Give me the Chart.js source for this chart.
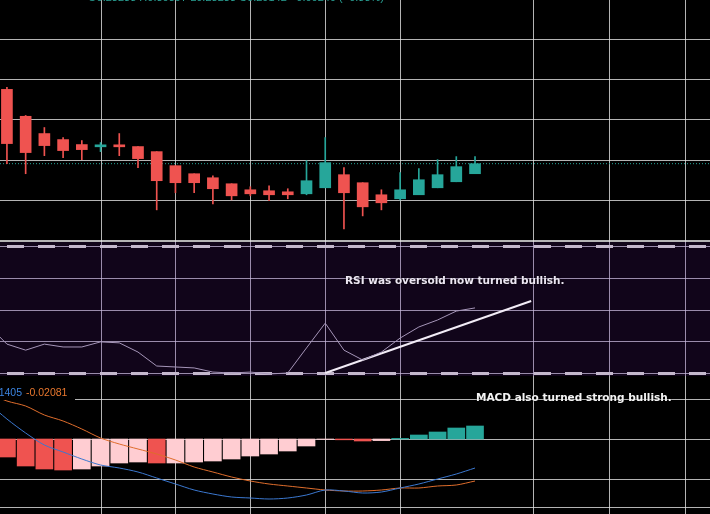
<!DOCTYPE html>
<html>
<head>
<meta charset="utf-8">
<script src="https://cdn.jsdelivr.net/npm/chart.js@4.4.1/dist/chart.umd.min.js"></script>
<style>
  html, body { margin: 0; padding: 0; background: #000; overflow: hidden; }
  #wrap { position: relative; width: 710px; height: 514px; }
  canvas { position: absolute; left: 0; display: block; }
  #priceCanvas { top: 0; }
  #rsiCanvas { top: 242px; }
  #macdCanvas { top: 376px; }
</style>
</head>
<body>
<div id="wrap">
  <canvas id="priceCanvas" width="710" height="242"></canvas>
  <canvas id="rsiCanvas" width="710" height="134"></canvas>
  <canvas id="macdCanvas" width="710" height="138"></canvas>
</div>
<script>
// candles, one per bar index 0..25
const opens  = [0.29875, 0.2954, 0.29325, 0.2925, 0.29188, 0.2916, 0.29165, 0.29163, 0.291, 0.28925, 0.28825, 0.28775, 0.287,
                0.28625, 0.28613, 0.286, 0.28575, 0.2865, 0.28813, 0.28713, 0.28563, 0.28513, 0.28563, 0.2865, 0.28725, 0.28825];
const highs  = [0.299, 0.2955, 0.294, 0.29275, 0.29238, 0.29213, 0.29325, 0.29163, 0.291, 0.28925, 0.28825, 0.288, 0.287,
                0.28663, 0.28675, 0.28638, 0.28988, 0.29275, 0.289, 0.28713, 0.28625, 0.28838, 0.28888, 0.29, 0.29038, 0.29038];
const lows   = [0.2895, 0.28825, 0.2905, 0.29025, 0.29, 0.291, 0.2905, 0.289, 0.28375, 0.28588, 0.28588, 0.2845, 0.285,
                0.2855, 0.28488, 0.28513, 0.28563, 0.2865, 0.28138, 0.283, 0.28375, 0.285, 0.28563, 0.2865, 0.28725, 0.28825];
const closes = [0.292, 0.29088, 0.29175, 0.29113, 0.29125, 0.29165, 0.2916, 0.29013, 0.28738, 0.28713, 0.28713, 0.28638, 0.2855,
                0.28575, 0.28563, 0.28563, 0.28738, 0.28963, 0.28588, 0.28413, 0.28463, 0.28625, 0.2875, 0.28813, 0.28913, 0.2895];

// indicators start one bar earlier (index -1)
const rsi = [45, 39.1, 37.2, 39.1, 38.2, 38.2, 39.8, 39.5, 36.6, 32.2, 31.9, 31.6, 30.3, 30.0,
             30.3, 29.7, 30.0, 37.9, 45.7, 37.2, 34.1, 36.6, 41.0, 44.5, 46.7, 49.5, 50.5];
const rsiTrend = [[17, 30], [28, 52.7]];
const macd = [0.018, 0.010, 0.003, -0.003, -0.0065, -0.010, -0.013, -0.0145, -0.0165, -0.0195, -0.0225, -0.0255, -0.0275, -0.029,
              -0.0295, -0.030, -0.0295, -0.028, -0.0255, -0.026, -0.027, -0.0265, -0.0245, -0.0225, -0.020, -0.0175, -0.0145];
const signal = [0.023, 0.019, 0.0165, 0.012, 0.009, 0.005, 0.0005, -0.0025, -0.005, -0.0075, -0.0105, -0.014, -0.0165, -0.019,
                -0.021, -0.0225, -0.0235, -0.0245, -0.0255, -0.026, -0.026, -0.0255, -0.0245, -0.0245, -0.0235, -0.023, -0.021];
const hist = [-0.005, -0.009, -0.0135, -0.015, -0.0155, -0.015, -0.0135, -0.012, -0.0115, -0.012, -0.012, -0.0115, -0.011, -0.010,
              -0.0085, -0.0075, -0.006, -0.0035, -0.0002, -0.0004, -0.001, -0.0008, 0.0003, 0.002, 0.0035, 0.0055, 0.0065];

// grid levels
const timeGrid = [5, 9, 13, 17, 21, 28.1, 32.15, 36.2];
const priceTicks = [0.305, 0.30, 0.295, 0.29, 0.285, 0.28];
const rsiTicks = [60, 50, 40];
const rsiBands = [70, 30];
const macdTicks = [0.02, 0, -0.02, -0.034];

const headerText = "O0.28288 H0.30397 L0.28288 C0.29142 +0.00249 (+0.83%)";
const macdLegend = ["-0.01405", "-0.02081"];

const UP = "#26a69a", DOWN = "#ef5350";
const X_MIN = -0.37, X_MAX = 37.55;

const candleColors = closes.map((c, i) => (c >= opens[i] ? UP : DOWN));
const histColors = hist.map((v, i) => {
  const prev = i > 0 ? hist[i - 1] : v;
  if (v >= 0) return v >= prev ? UP : "#b2dfdb";
  return v < prev ? DOWN : "#ffcdd2";
});

const panePlugin = {
  id: "pane",
  beforeDraw(chart, args, o) {
    const { ctx, scales } = chart;
    const w = chart.width, h = chart.height;
    ctx.save();
    ctx.fillStyle = o.bg;
    ctx.fillRect(0, 0, w, h);
    ctx.strokeStyle = o.grid;
    ctx.lineWidth = 1;
    ctx.beginPath();
    timeGrid.forEach((t) => {
      const px = Math.round(scales.x.getPixelForValue(t)) + 0.5;
      ctx.moveTo(px, 0);
      ctx.lineTo(px, h);
    });
    (o.levels || []).forEach((v) => {
      const py = Math.round(scales.y.getPixelForValue(v)) + 0.5;
      ctx.moveTo(0, py);
      ctx.lineTo(w, py);
    });
    if (o.bottomLine) {
      ctx.moveTo(0, h - 0.5);
      ctx.lineTo(w, h - 0.5);
    }
    ctx.stroke();
    if (o.bands) {
      ctx.strokeStyle = o.bandColor;
      ctx.lineWidth = 3;
      ctx.setLineDash([17, 14]);
      ctx.lineDashOffset = 24;
      ctx.beginPath();
      o.bands.forEach((v) => {
        const py = Math.round(scales.y.getPixelForValue(v)) + 0.5;
        ctx.moveTo(0, py);
        ctx.lineTo(w, py);
      });
      ctx.stroke();
    }
    ctx.restore();
  },
  afterDraw(chart, args, o) {
    const ctx = chart.ctx;
    (o.notes || []).forEach((n) => {
      ctx.save();
      if (n.box) {
        ctx.fillStyle = "#000";
        ctx.fillRect(n.box[0], n.box[1], n.box[2], n.box[3]);
      }
      ctx.font = n.font;
      ctx.fillStyle = n.color;
      ctx.textAlign = n.align || "left";
      ctx.textBaseline = n.baseline || "middle";
      if (n.shadow) {
        ctx.shadowColor = "rgba(0,0,0,0.9)";
        ctx.shadowBlur = 2;
      }
      ctx.fillText(n.text, n.x, n.y);
      ctx.restore();
    });
  },
};

const hiddenX = { type: "linear", min: X_MIN, max: X_MAX, offset: false, display: false };
const baseOpts = {
  responsive: false,
  animation: false,
  events: [],
  layout: { padding: 0 },
};

// price pane
new Chart(document.getElementById("priceCanvas"), {
  type: "bar",
  data: {
    datasets: [
      {
        type: "line",
        data: [{ x: X_MIN, y: closes[closes.length - 1] }, { x: X_MAX, y: closes[closes.length - 1] }],
        borderColor: UP,
        borderWidth: 1,
        borderDash: [1, 2],
        pointRadius: 0,
        order: 3,
      },
      {
        data: highs.map((h, i) => ({ x: i, y: [lows[i], h] })),
        backgroundColor: candleColors,
        barThickness: 1,
        grouped: false,
        order: 2,
      },
      {
        data: opens.map((o, i) => ({ x: i, y: [o, closes[i]] })),
        backgroundColor: candleColors,
        barThickness: 11,
        minBarLength: 2,
        grouped: false,
        order: 1,
      },
    ],
  },
  options: {
    ...baseOpts,
    scales: {
      x: hiddenX,
      y: { type: "linear", min: 0.27975, max: 0.309875, display: false },
    },
    plugins: {
      legend: { display: false },
      tooltip: { enabled: false },
      pane: {
        bg: "#000",
        grid: "rgba(225,225,225,0.8)",
        levels: priceTicks,
        bottomLine: true,
        notes: [
          { text: headerText, x: 88, y: 3, baseline: "bottom", color: "#2aa397", font: '11px "Liberation Sans"' },
        ],
      },
    },
  },
  plugins: [panePlugin],
});

const indIdx = rsi.map((_, i) => i - 1);

// RSI pane
new Chart(document.getElementById("rsiCanvas"), {
  type: "line",
  data: {
    datasets: [
      {
        data: rsi.map((v, i) => ({ x: indIdx[i], y: v })),
        borderColor: "#a595b8",
        borderWidth: 1,
        pointRadius: 0,
        tension: 0,
      },
      {
        data: rsiTrend.map((p) => ({ x: p[0], y: p[1] })),
        borderColor: "#f2ecf6",
        borderWidth: 2,
        pointRadius: 0,
      },
    ],
  },
  options: {
    ...baseOpts,
    scales: {
      x: hiddenX,
      y: { type: "linear", min: 29.06, max: 71.26, display: false },
    },
    plugins: {
      legend: { display: false },
      tooltip: { enabled: false },
      pane: {
        bg: "#11051a",
        grid: "rgba(200,185,220,0.75)",
        levels: rsiTicks.concat(rsiBands),
        bands: rsiBands,
        bandColor: "#c4b8cc",
        notes: [
          { text: "RSI was oversold now turned bullish.", x: 345, y: 39, color: "#ece6f2",
            font: 'bold 10.5px "DejaVu Sans"', shadow: true },
        ],
      },
    },
  },
  plugins: [panePlugin],
});

// MACD pane
new Chart(document.getElementById("macdCanvas"), {
  type: "bar",
  data: {
    datasets: [
      {
        type: "line",
        data: macd.map((v, i) => ({ x: indIdx[i], y: v })),
        borderColor: "#3b78d0",
        borderWidth: 1,
        pointRadius: 0,
        tension: 0.3,
        order: 0,
      },
      {
        type: "line",
        data: signal.map((v, i) => ({ x: indIdx[i], y: v })),
        borderColor: "#df6d2c",
        borderWidth: 1,
        pointRadius: 0,
        tension: 0.3,
        order: 0,
      },
      {
        data: hist.map((v, i) => ({ x: indIdx[i], y: v })),
        backgroundColor: histColors,
        barThickness: 17,
        grouped: false,
        order: 1,
      },
    ],
  },
  options: {
    ...baseOpts,
    scales: {
      x: hiddenX,
      y: { type: "linear", min: -0.0375, max: 0.0315, display: false },
    },
    plugins: {
      legend: { display: false },
      tooltip: { enabled: false },
      pane: {
        bg: "#000",
        grid: "rgba(225,225,225,0.8)",
        levels: macdTicks,
        notes: [
          { text: macdLegend[0], x: 22, y: 17, align: "right", color: "#3b84e0",
            font: '10.5px "Liberation Sans"', box: [0, 8, 75, 16] },
          { text: macdLegend[1], x: 26, y: 17, color: "#e8772e", font: '10.5px "Liberation Sans"' },
          { text: "MACD also turned strong bullish.", x: 476, y: 22, color: "#f4f4f4",
            font: 'bold 10.5px "DejaVu Sans"', shadow: true },
        ],
      },
    },
  },
  plugins: [panePlugin],
});
</script>
</body>
</html>
